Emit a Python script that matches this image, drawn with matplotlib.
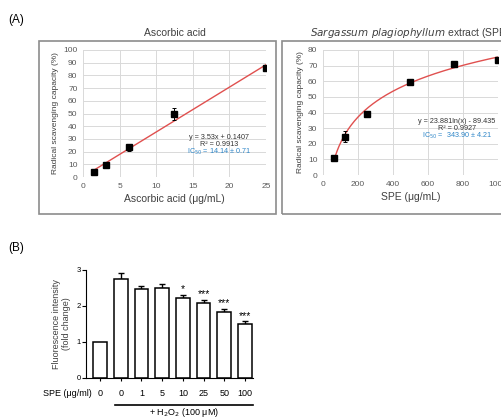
import numpy as np
import matplotlib
matplotlib.use("Agg")
import matplotlib.pyplot as plt
from matplotlib.patches import Rectangle
from matplotlib.transforms import blended_transform_factory

plt.rcParams['font.family'] = ['Liberation Sans', 'DejaVu Sans']

# (A) left: ascorbic acid
aa_conc = [1.5625, 3.125, 6.25, 12.5, 25]
aa_scav = [3.8, 9.4, 23.3, 49.6, 86.2]
aa_err = [0.8, 1.0, 3.0, 5.0, 1.5]
aa_slope, aa_icpt = 3.53, 0.1407

# (A) right: SPE
spe_conc = [62.5, 125, 250, 500, 750, 1000]
spe_scav = [10.8, 24.5, 39.2, 59.8, 70.9, 73.7]
spe_err = [1.0, 3.5, 1.0, 1.0, 1.0, 1.0]
spe_a, spe_b = 23.881, -89.435

# (B) fluorescence
bar_labels = ['0', '0', '1', '5', '10', '25', '50', '100']
bar_vals = [1.0, 2.75, 2.46, 2.51, 2.23, 2.07, 1.84, 1.50]
bar_err = [0.0, 0.16, 0.10, 0.10, 0.07, 0.11, 0.08, 0.07]
bar_sig = ['', '', '', '', '*', '***', '***', '***']

W, H = 502, 417
fig = plt.figure(figsize=(W / 100, H / 100), dpi=100)


def box(x0, y0, x1, y1):
    # pixel coords, y from top
    return [x0 / W, 1 - y1 / H, (x1 - x0) / W, (y1 - y0) / H]


gray = '#595959'
grid = '#d9d9d9'
red = '#e0504f'
blue = '#2e86c8'


def excel_style(ax):
    for s in ax.spines.values():
        s.set_visible(False)
    ax.tick_params(length=0, labelsize=6, labelcolor=gray, pad=4)
    ax.grid(True, color=grid, lw=0.7)
    ax.set_axisbelow(True)


# frames
for x0, x1 in [(39, 276), (282, 530)]:
    fig.patches.append(Rectangle((x0 / W, 1 - 214 / H), (x1 - x0) / W, (214 - 41) / H,
                                 transform=fig.transFigure, fill=False,
                                 edgecolor='#8c8c8c', lw=1.2))

# left panel
ax1 = fig.add_axes(box(83, 50, 266, 177))
excel_style(ax1)
xs = np.linspace(1.5, 25, 50)
ax1.plot(xs, aa_slope * xs + aa_icpt, color=red, lw=1, zorder=2)
ax1.errorbar(aa_conc, aa_scav, yerr=aa_err, fmt='s', color='black', ms=3.8,
             capsize=1.5, elinewidth=0.7, capthick=0.7, zorder=3)
ax1.set_xlim(0, 25)
ax1.set_ylim(0, 100)
ax1.set_xticks(range(0, 30, 5))
ax1.set_yticks(range(0, 110, 10))
ax1.set_xlabel('Ascorbic acid (μg/mL)', fontsize=7.5, color='#404040', labelpad=3)
ax1.set_ylabel('Radical scavenging capacity (%)', fontsize=6, color='#404040', labelpad=3)
ax1.set_title('Ascorbic acid', fontsize=7.5, color='#404040', pad=10)
ax1.text(18.6, 30, 'y = 3.53x + 0.1407', fontsize=5.2, ha='center', color='#333333')
ax1.text(18.6, 24.5, 'R² = 0.9913', fontsize=5.2, ha='center', color='#333333')
ax1.text(18.6, 18.5, 'IC$_{50}$ = 14.14 ± 0.71', fontsize=5.2, ha='center', color=blue)

# right panel
ax2 = fig.add_axes(box(323, 50, 498, 175))
excel_style(ax2)
xc = np.linspace(62.5, 1000, 200)
ax2.plot(xc, spe_a * np.log(xc) + spe_b, color=red, lw=1, zorder=2)
ax2.errorbar(spe_conc, spe_scav, yerr=spe_err, fmt='s', color='black', ms=3.8,
             capsize=1.5, elinewidth=0.7, capthick=0.7, zorder=3)
ax2.set_xlim(0, 1000)
ax2.set_ylim(0, 80)
ax2.set_xticks(range(0, 1200, 200))
ax2.set_yticks(range(0, 90, 10))
ax2.set_xlabel('SPE (μg/mL)', fontsize=7.5, color='#404040', labelpad=3)
ax2.set_ylabel('Radical scavenging capacity (%)', fontsize=6, color='#404040', labelpad=3)
ax2.set_title(r'$\it{Sargassum\ plagiophyllum}$ extract (SPE)', fontsize=7.5,
              color='#404040', pad=10)
ax2.text(765, 33, 'y = 23.881ln(x) - 89.435', fontsize=5.2, ha='center', color='#333333')
ax2.text(765, 28.5, 'R² = 0.9927', fontsize=5.2, ha='center', color='#333333')
ax2.text(765, 23.5, 'IC$_{50}$ =  343.90 ± 4.21', fontsize=5.2, ha='center', color=blue)

fig.text(8 / W, 1 - 20 / H, '(A)', fontsize=8.5, va='center')
fig.text(8 / W, 1 - 248 / H, '(B)', fontsize=8.5, va='center')

# (B) bars
ax3 = fig.add_axes(box(86, 270, 253, 378))
pos = np.arange(len(bar_vals))
ax3.bar(pos, bar_vals, width=0.67, color='white', edgecolor='black', lw=1.1, zorder=2)
ax3.errorbar(pos[1:], bar_vals[1:], yerr=[np.zeros(len(pos) - 1), bar_err[1:]],
             fmt='none', ecolor='black', capsize=2.5, elinewidth=1, capthick=1, zorder=1)
for p, v, e, s in zip(pos, bar_vals, bar_err, bar_sig):
    if s:
        ax3.text(p, v + e + 0.02, s, ha='center', va='bottom', fontsize=7.5)
ax3.set_xlim(-0.68, 7.39)
ax3.set_ylim(0, 3)
ax3.set_yticks([0, 1, 2, 3])
ax3.set_xticks(pos)
ax3.set_xticklabels(bar_labels)
ax3.spines['top'].set_visible(False)
ax3.spines['right'].set_visible(False)
ax3.tick_params(axis='y', length=3, labelsize=5.5, pad=1)
ax3.tick_params(axis='x', length=2, labelsize=6.5, pad=6)
ax3.set_ylabel('Fluorescence intensity\n(fold change)', fontsize=6.5, color='#404040',
               labelpad=4, linespacing=1.1)
tr = blended_transform_factory(ax3.transData, ax3.transAxes)
ax3.plot([0.72, 7.38], [-0.25, -0.25], color='black', lw=1.2, transform=tr, clip_on=False)
ax3.text(4.05, -0.315, '+ H$_2$O$_2$ (100 μM)', transform=tr, ha='center', va='center',
         fontsize=6.5)
fig.text(92 / W, 1 - 393 / H, 'SPE (μg/ml)', ha='right', va='center', fontsize=6.5)

fig.savefig('out.png', dpi=100)
